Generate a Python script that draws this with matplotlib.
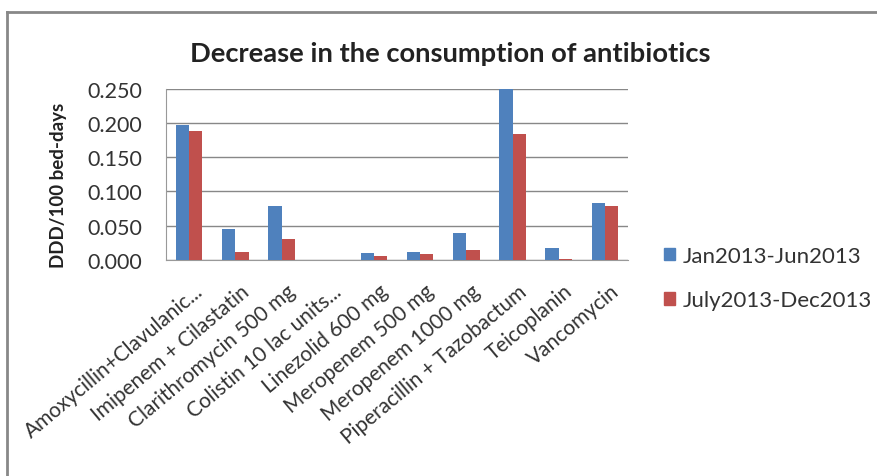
import matplotlib
matplotlib.use("Agg")
import matplotlib.pyplot as plt
import matplotlib.transforms as mtransforms
import numpy as np
from matplotlib.lines import Line2D
from matplotlib.patches import Patch

categories = ["Amoxycillin+Clavulanic...", "Imipenem + Cilastatin", "Clarithromycin 500 mg",
              "Colistin 10 lac units...", "Linezolid 600 mg", "Meropenem 500 mg",
              "Meropenem 1000 mg", "Piperacillin + Tazobactum", "Teicoplanin", "Vancomycin"]
jan_jun = [0.198, 0.045, 0.079, 0.0, 0.010, 0.011, 0.039, 0.250, 0.017, 0.083]
jul_dec = [0.188, 0.012, 0.031, 0.0, 0.005, 0.008, 0.014, 0.184, 0.001, 0.078]
series_names = ["Jan2013-Jun2013", "July2013-Dec2013"]
yticks = [0.0, 0.05, 0.10, 0.15, 0.20, 0.25]

plt.rcParams['font.family'] = ['Lato', 'DejaVu Sans']
W, H = 878, 477
fig = plt.figure(figsize=(W/100, H/100), dpi=100)
ax = fig.add_axes([166/W, 1-260.7/H, (628-166)/W, (260.7-90)/H])

blue = "#4F81BD"
red = "#C0504D"
x = np.arange(len(categories))
bw = 0.29
ax.bar(x - bw/2, jan_jun, bw, color=blue, label=series_names[0], zorder=3)
ax.bar(x + bw/2, jul_dec, bw, color=red, label=series_names[1], zorder=3)

ax.set_xlim(-0.5, len(categories) - 0.5)
ax.set_ylim(0, 0.25)
ax.set_yticks(yticks)
ax.set_yticklabels([f"{v:.3f}" for v in yticks], fontsize=15.5, color="#333333")
ax.tick_params(axis='y', length=0, pad=17)
ax.set_xticks(x)
ax.set_xticklabels(categories, rotation=40, ha='right', va='top', rotation_mode='anchor',
                   fontsize=15, color="#333333")
ax.tick_params(axis='x', length=0, pad=15)
offset = mtransforms.ScaledTranslation(5/100, 0, fig.dpi_scale_trans)
for lbl in ax.get_xticklabels():
    lbl.set_transform(lbl.get_transform() + offset)
ax.yaxis.grid(True, color="#888888", linewidth=1.0, zorder=0)
for s in ['top', 'right']:
    ax.spines[s].set_visible(False)
for s in ['left', 'bottom']:
    ax.spines[s].set_color("#999999")
ax.set_ylabel("DDD/100 bed-days", fontsize=13.5, fontweight='bold', color="#222222")
ax.yaxis.set_label_coords(-(166-67)/(628-166), (260.7-185)/170.7)

fig.text(450/W, 1-62/H, "Decrease in the consumption of antibiotics", ha='center', va='baseline',
         fontsize=19.7, fontweight='bold', color="#222222")

handles = [Patch(color=blue), Patch(color=red)]
fig.legend(handles, series_names, loc='center left', bbox_to_anchor=(644/W, 1-279/H),
           frameon=False, fontsize=16, handlelength=0.5, handleheight=0.5,
           handletextpad=0.35, labelspacing=1.1, labelcolor="#333333")

fig.add_artist(Line2D([7/W, 7/W], [0, 1-13/H], color="#888888", linewidth=2, transform=fig.transFigure))
fig.add_artist(Line2D([7/W, 1], [1-13/H, 1-13/H], color="#888888", linewidth=2, transform=fig.transFigure))

fig.savefig("out.png", dpi=100)
